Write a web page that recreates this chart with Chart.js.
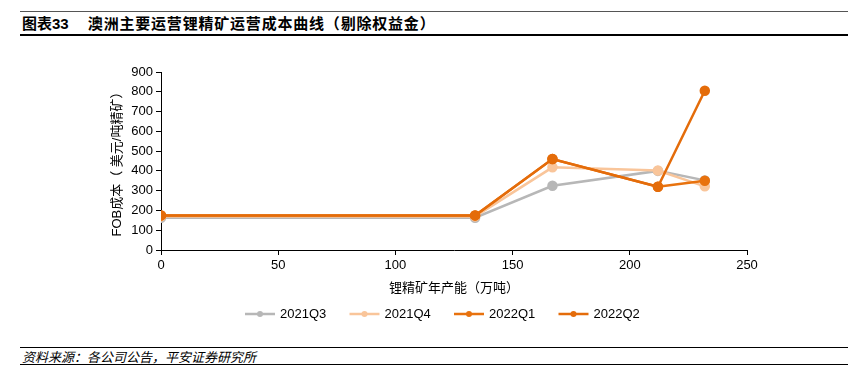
<!DOCTYPE html>
<html>
<head>
<meta charset="utf-8">
<script src="https://cdn.jsdelivr.net/npm/chart.js@4.4.0/dist/chart.umd.min.js"></script>
<style>
  html, body { margin: 0; padding: 0; background: #fff; }
  body { width: 855px; height: 387px; position: relative; overflow: hidden;
         font-family: "Liberation Sans", "Noto Sans CJK SC", sans-serif; }
  .rule { position: absolute; left: 20px; width: 828px; background: #000; }
  #title { position: absolute; left: 22px; top: 12px; font-size: 15px; font-weight: bold;
           font-family: "Liberation Sans", "Noto Sans CJK SC", sans-serif; white-space: pre; }
  #title .main { letter-spacing: 0.8px; }
  #source { position: absolute; left: 22px; top: 347px; font-size: 13px; font-style: italic;
            font-family: "Noto Sans CJK SC", sans-serif; }
  #wrap { position: absolute; left: 0; top: 40px; width: 855px; height: 300px; }
</style>
</head>
<body>
<div class="rule" style="top:11px;height:1px;background:#555"></div>
<div id="title">图表33　 <span class="main">澳洲主要运营锂精矿运营成本曲线（剔除权益金）</span></div>
<div class="rule" style="top:34px;height:2px"></div>
<div id="wrap"><canvas id="myChart" width="855" height="300"></canvas></div>
<div class="rule" style="top:347px;height:1px"></div>
<div id="source">资料来源：各公司公告，平安证券研究所</div>
<div class="rule" style="top:364px;height:1px"></div>
<script>
// 年产能（万吨）
const capacity = [0, 134, 167, 212, 232]
const seriesNames = ['2021Q3', '2021Q4', '2022Q1', '2022Q2']
const q3_2021 = [163, 163, 325, 400, 352]
const q4_2021 = [170, 170, 418, 402, 322]
const q1_2022 = [175, 175, 460, 320, 350]
const q2_2022 = [175, 175, 460, 320, 805]
const yTicks = [0, 100, 200, 300, 400, 500, 600, 700, 800, 900]
const xTicks = [0, 50, 100, 150, 200, 250]

const colors = ['#b7b7b7', '#f9c59a', '#e8720e', '#e46c0a']
const allSeries = [q3_2021, q4_2021, q1_2022, q2_2022]

const FONT = '"Liberation Sans", "Noto Sans CJK SC", sans-serif'

const datasets = allSeries.map((vals, i) => ({
  label: seriesNames[i],
  data: vals.map((v, j) => ({ x: capacity[j], y: v })),
  borderColor: colors[i],
  backgroundColor: colors[i],
  borderWidth: 2.5,
  pointRadius: 4,
  pointHoverRadius: 4,
  tension: 0,
  order: allSeries.length - i
}))

// legend drawn as short line + dot, like the original
const lineLegend = {
  id: 'lineLegend',
  afterDraw(chart) {
    const ctx = chart.ctx
    const y = 274
    let x = 245
    ctx.save()
    ctx.font = '13px ' + FONT
    ctx.textBaseline = 'middle'
    chart.data.datasets.forEach(ds => {
      ctx.strokeStyle = ds.borderColor
      ctx.lineWidth = 2.5
      ctx.beginPath()
      ctx.moveTo(x, y)
      ctx.lineTo(x + 30, y)
      ctx.stroke()
      ctx.fillStyle = ds.borderColor
      ctx.beginPath()
      ctx.arc(x + 15, y, 3, 0, Math.PI * 2)
      ctx.fill()
      ctx.fillStyle = '#000'
      ctx.fillText(ds.label, x + 35, y)
      x += 104.5
    })
    ctx.restore()
  }
}

const ctx = document.getElementById('myChart')

new Chart(ctx, {
  type: 'line',
  data: { datasets },
  options: {
    responsive: false,
    animation: false,
    layout: { padding: { left: 108, right: 108, top: 32, bottom: 40 } },
    plugins: { legend: { display: false }, tooltip: { enabled: false } },
    scales: {
      x: {
        type: 'linear',
        min: 0, max: 250,
        afterBuildTicks: s => { s.ticks = xTicks.map(v => ({ value: v })) },
        afterFit: s => { s.height = 50 },
        border: { color: '#000', width: 1 },
        grid: { drawOnChartArea: false, drawTicks: true, tickLength: 5, color: '#000' },
        ticks: { color: '#000', font: { family: FONT, size: 13 }, padding: 3, maxRotation: 0 },
        title: { display: true, text: '锂精矿年产能（万吨）', color: '#000',
                 font: { family: FONT, size: 13 }, padding: { top: 4, bottom: 4 } }
      },
      y: {
        min: 0, max: 900,
        afterBuildTicks: s => { s.ticks = yTicks.map(v => ({ value: v })) },
        afterFit: s => { s.width = 53 },
        border: { color: '#000', width: 1 },
        grid: { drawOnChartArea: false, drawTicks: true, tickLength: 5, color: '#000' },
        ticks: { color: '#000', font: { family: FONT, size: 13 }, padding: 3 },
        title: { display: true, text: 'FOB成本（ 美元/吨精矿）', color: '#000',
                 font: { family: FONT, size: 13 }, padding: { top: 2, bottom: 2 } }
      }
    }
  },
  plugins: [lineLegend]
})
</script>
</body>
</html>
